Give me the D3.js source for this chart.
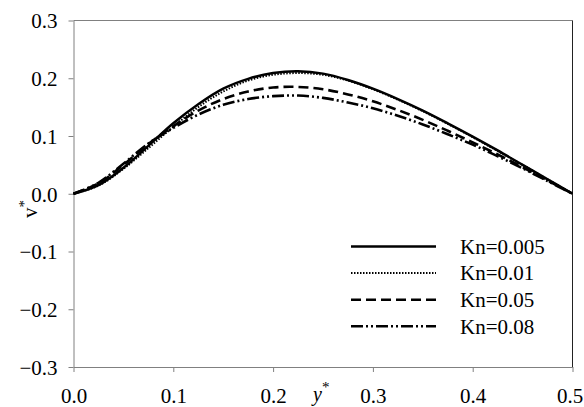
<!DOCTYPE html>
<html>
<head>
<meta charset="utf-8">
<script src="https://cdn.jsdelivr.net/npm/d3@7"></script>
<style>
  body { margin: 0; background: #fff; }
  svg { display: block; }
  text { font-family: "Liberation Serif", "Times New Roman", serif; fill: #000; }
</style>
</head>
<body>
<svg id="chart" width="584" height="407"></svg>
<script>
// y* positions (x axis)
const yStar = [0, 0.025, 0.05, 0.075, 0.1, 0.125, 0.15, 0.175, 0.2, 0.225, 0.25,
               0.275, 0.3, 0.325, 0.35, 0.375, 0.4, 0.425, 0.45, 0.475, 0.5];

// v* for each Knudsen number
const kn005 = [0, 0.015, 0.045, 0.083, 0.122, 0.155, 0.182, 0.199, 0.209, 0.212, 0.208,
               0.197, 0.182, 0.164, 0.144, 0.122, 0.099, 0.075, 0.050, 0.025, 0];
const kn01  = [0, 0.014, 0.043, 0.079, 0.116, 0.150, 0.177, 0.196, 0.206, 0.209, 0.206,
               0.196, 0.181, 0.163, 0.143, 0.121, 0.098, 0.074, 0.050, 0.025, 0];
const kn05  = [0, 0.018, 0.050, 0.086, 0.117, 0.144, 0.164, 0.177, 0.184, 0.185, 0.181,
               0.172, 0.160, 0.145, 0.128, 0.109, 0.089, 0.068, 0.046, 0.023, 0];
const kn08  = [0, 0.019, 0.052, 0.087, 0.114, 0.137, 0.154, 0.164, 0.169, 0.170, 0.166,
               0.158, 0.148, 0.135, 0.120, 0.103, 0.085, 0.065, 0.044, 0.022, 0];

const seriesNames = ["Kn=0.005", "Kn=0.01", "Kn=0.05", "Kn=0.08"];
const seriesValues = [kn005, kn01, kn05, kn08];

const xTicks = [0, 0.1, 0.2, 0.3, 0.4, 0.5];
const yTicks = [-0.3, -0.2, -0.1, 0, 0.1, 0.2, 0.3];

const styles = [
  { width: 2.5, dash: null },
  { width: 2, dash: "1.5,1.5" },
  { width: 2.6, dash: "10,5" },
  { width: 2.6, dash: "12,3,2,3,2,3" }
];

const svg = d3.select("#chart");
const mLeft = 73.5, mRight = 572.5, mTop = 20.5, mBottom = 367;
const fontSize = 21;

const x = d3.scaleLinear().domain([0, 0.5]).range([mLeft, mRight]);
const y = d3.scaleLinear().domain([-0.3, 0.3]).range([mBottom, mTop]);

// frame: top grey, right dark
svg.append("line")
  .attr("x1", mLeft).attr("x2", mRight).attr("y1", mTop).attr("y2", mTop)
  .attr("stroke", "#808080").attr("stroke-width", 1);
svg.append("line")
  .attr("x1", mRight).attr("x2", mRight).attr("y1", mTop).attr("y2", mBottom)
  .attr("stroke", "#222").attr("stroke-width", 1);

const xAxis = svg.append("g")
  .attr("transform", `translate(0,${mBottom})`)
  .call(d3.axisBottom(x).tickValues(xTicks).tickFormat(d3.format(".1f"))
    .tickSizeInner(5).tickSizeOuter(0).tickPadding(16));

const yAxis = svg.append("g")
  .attr("transform", `translate(${mLeft},0)`)
  .call(d3.axisLeft(y).tickValues(yTicks).tickFormat(d3.format(".1f"))
    .tickSizeInner(5).tickSizeOuter(0).tickPadding(11));

[xAxis, yAxis].forEach(a => {
  a.attr("font-family", "Liberation Serif").attr("font-size", fontSize);
  a.select(".domain").attr("stroke", "#808080");
  a.selectAll(".tick line").attr("stroke", "#808080");
  a.selectAll(".tick text").attr("fill", "#000");
});
yAxis.selectAll(".tick text").attr("dy", "0.35em");
// keep the last x label inside the window
xAxis.selectAll(".tick text").filter(d => d === 0.5).attr("dx", -3);

// curves
const line = d3.line()
  .x((d, i) => x(yStar[i]))
  .y(d => y(d))
  .curve(d3.curveCatmullRom);

const curves = svg.append("g");
seriesValues.forEach((vals, k) => {
  curves.append("path")
    .datum(vals)
    .attr("d", line)
    .attr("fill", "none")
    .attr("stroke", "#000")
    .attr("stroke-width", styles[k].width)
    .attr("stroke-dasharray", styles[k].dash);
});

// legend
const legend = svg.append("g");
seriesNames.forEach((name, k) => {
  const ly = 246.5 + k * 26.6;
  legend.append("line")
    .attr("x1", 351).attr("x2", 436)
    .attr("y1", ly).attr("y2", ly)
    .attr("stroke", "#000")
    .attr("stroke-width", styles[k].width)
    .attr("stroke-dasharray", styles[k].dash);
  legend.append("text")
    .attr("x", 460).attr("y", ly)
    .attr("dy", "0.35em")
    .attr("font-size", fontSize)
    .text(name);
});

// axis titles
svg.append("text")
  .attr("transform", "translate(37,218) rotate(-90)")
  .attr("font-size", fontSize)
  .html('v<tspan dy="-8" font-size="15">*</tspan>');

svg.append("text")
  .attr("x", 313).attr("y", 401)
  .attr("font-size", 20)
  .attr("font-style", "italic")
  .html('y<tspan dy="-9" font-size="15" font-style="normal">*</tspan>');
</script>
</body>
</html>
